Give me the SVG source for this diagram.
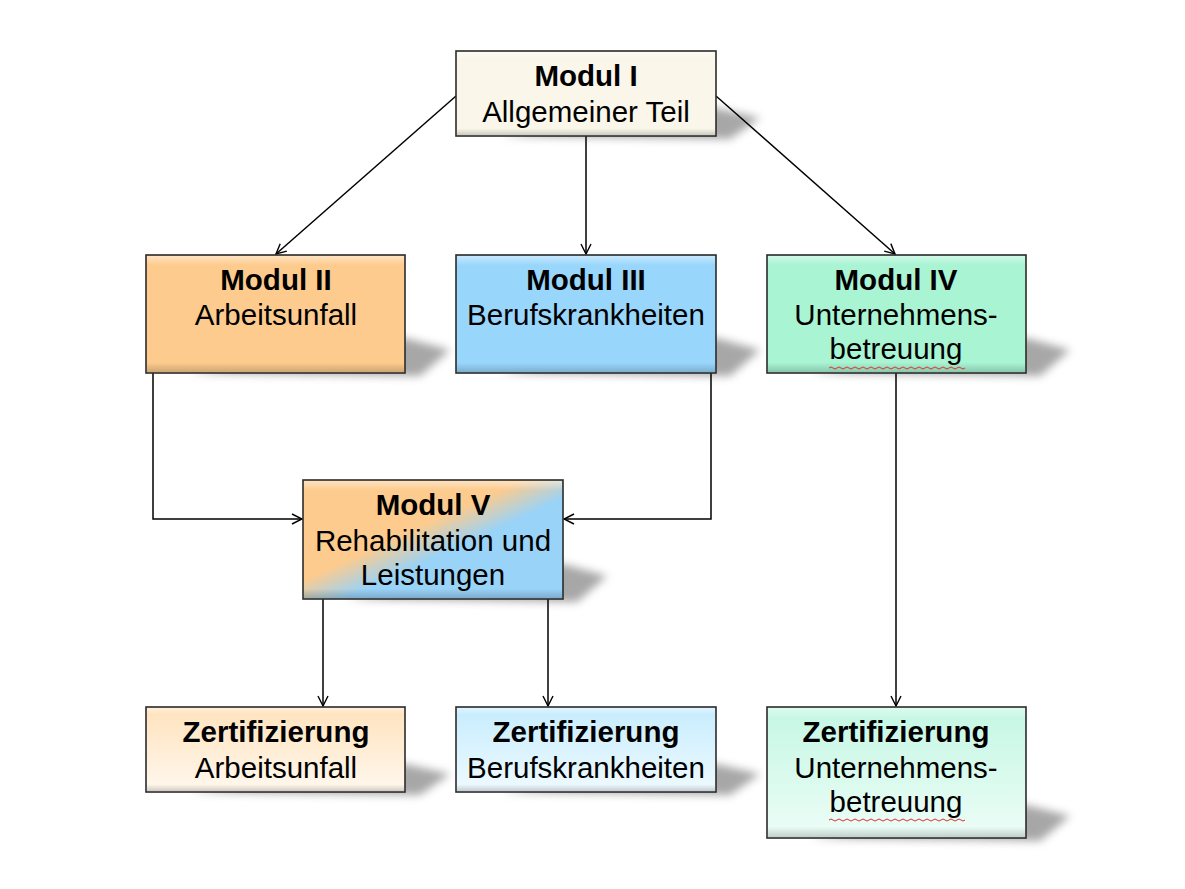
<svg xmlns="http://www.w3.org/2000/svg" width="1185" height="889" viewBox="0 0 1185 889">
<style>
.box{stroke:#2b2b2b;stroke-width:1.6}
.t{font-family:"Liberation Sans",Arial,sans-serif;font-size:29.5px;fill:#000;text-anchor:middle}
.b{font-weight:bold}
.c{stroke:#000;stroke-width:1.5;fill:none;marker-end:url(#ah)}
.sh{fill:#8a8a8a;filter:url(#blur);opacity:0.75}
.bev{fill:url(#bevel);pointer-events:none}
.wav{stroke:#e03030;stroke-width:1;fill:none}
</style>
<defs>
<marker id="ah" viewBox="0 0 12 12" refX="11" refY="6" markerWidth="12" markerHeight="12" markerUnits="userSpaceOnUse" orient="auto">
<path d="M1,1 L11,6 L1,11" fill="none" stroke="#000" stroke-width="1.4"/>
</marker>
<filter id="blur" x="-20%" y="-50%" width="140%" height="200%"><feGaussianBlur stdDeviation="4"/></filter>
<linearGradient id="bevel" x1="0" y1="0" x2="0" y2="1">
<stop offset="0" stop-color="#fff" stop-opacity="0.45"/>
<stop offset="0.08" stop-color="#fff" stop-opacity="0"/>
<stop offset="0.92" stop-color="#000" stop-opacity="0"/>
<stop offset="1" stop-color="#000" stop-opacity="0.18"/>
</linearGradient>
<linearGradient id="g5" x1="0" y1="0" x2="1" y2="1">
<stop offset="0.42" stop-color="#FDCB8D"/>
<stop offset="0.58" stop-color="#99D3F8"/>
</linearGradient>
<linearGradient id="gA" x1="0" y1="0" x2="0" y2="1">
<stop offset="0" stop-color="#FFE2BC"/>
<stop offset="1" stop-color="#FFF8EE"/>
</linearGradient>
<linearGradient id="gB" x1="0" y1="0" x2="0" y2="1">
<stop offset="0" stop-color="#C6ECFD"/>
<stop offset="1" stop-color="#EFFAFF"/>
</linearGradient>
<linearGradient id="gC" x1="0" y1="0" x2="0" y2="1">
<stop offset="0" stop-color="#C4F7E3"/>
<stop offset="1" stop-color="#EDFDF7"/>
</linearGradient>
</defs>

<g id="shadows">
<polygon class="sh" points="500,136 716,108 760,118 730,139"/>
<polygon class="sh" points="190,373 405,338 450,350 420,376"/>
<polygon class="sh" points="500,373 716,338 760,350 730,376"/>
<polygon class="sh" points="811,373 1026,338 1070,350 1040,376"/>
<polygon class="sh" points="347,599 563,564 607,576 577,602"/>
<polygon class="sh" points="190,792 405,764 450,774 420,795"/>
<polygon class="sh" points="500,792 716,764 760,774 730,795"/>
<polygon class="sh" points="811,838 1026,805 1070,816 1040,841"/>
</g>

<g id="connectors">
<line class="c" x1="456" y1="96" x2="276" y2="254"/>
<line class="c" x1="586" y1="136" x2="586" y2="254"/>
<line class="c" x1="716" y1="96" x2="895" y2="254"/>
<polyline class="c" points="153,373 153,519 302,519"/>
<polyline class="c" points="711,373 711,519 564,519"/>
<line class="c" x1="896" y1="373" x2="896" y2="706"/>
<line class="c" x1="323" y1="599" x2="323" y2="706"/>
<line class="c" x1="548" y1="599" x2="548" y2="706"/>
</g>

<g id="modul1">
<rect class="box" x="456" y="51" width="260" height="85" fill="#FAF7EA"/>
<rect class="bev" x="457" y="52" width="258" height="83"/>
<text class="t b" x="586" y="86">Modul I</text>
<text class="t" x="586" y="122">Allgemeiner Teil</text>
</g>

<g id="modul2">
<rect class="box" x="146" y="255" width="259" height="118" fill="#FDCB8D"/>
<rect class="bev" x="147" y="256" width="257" height="116"/>
<text class="t b" x="276" y="290">Modul II</text>
<text class="t" x="276" y="325">Arbeitsunfall</text>
</g>

<g id="modul3">
<rect class="box" x="456" y="255" width="260" height="118" fill="#99D6FC"/>
<rect class="bev" x="457" y="256" width="258" height="116"/>
<text class="t b" x="586" y="290">Modul III</text>
<text class="t" x="586" y="325">Berufskrankheiten</text>
</g>

<g id="modul4">
<rect class="box" x="767" y="255" width="259" height="118" fill="#A8F4D3"/>
<rect class="bev" x="768" y="256" width="257" height="116"/>
<text class="t b" x="896" y="290">Modul IV</text>
<text class="t" x="896" y="325">Unternehmens-</text>
<text class="t" x="896" y="359">betreuung</text>
<path class="wav" d="M829,368 q2,-2 4,0 t4,0 t4,0 t4,0 t4,0 t4,0 t4,0 t4,0 t4,0 t4,0 t4,0 t4,0 t4,0 t4,0 t4,0 t4,0 t4,0 t4,0 t4,0 t4,0 t4,0 t4,0 t4,0 t4,0 t4,0 t4,0 t4,0 t4,0 t4,0 t4,0 t4,0 t4,0 t4,0 t4,0"/>
</g>

<g id="modul5">
<rect class="box" x="303" y="480" width="260" height="119" fill="url(#g5)"/>
<rect class="bev" x="304" y="481" width="258" height="117"/>
<text class="t b" x="433" y="515">Modul V</text>
<text class="t" x="433" y="551">Rehabilitation und</text>
<text class="t" x="433" y="585">Leistungen</text>
</g>

<g id="zertA">
<rect class="box" x="146" y="707" width="259" height="85" fill="url(#gA)"/>
<rect class="bev" x="147" y="708" width="257" height="83"/>
<text class="t b" x="276" y="742">Zertifizierung</text>
<text class="t" x="276" y="778">Arbeitsunfall</text>
</g>

<g id="zertB">
<rect class="box" x="456" y="707" width="260" height="85" fill="url(#gB)"/>
<rect class="bev" x="457" y="708" width="258" height="83"/>
<text class="t b" x="586" y="742">Zertifizierung</text>
<text class="t" x="586" y="778">Berufskrankheiten</text>
</g>

<g id="zertC">
<rect class="box" x="767" y="707" width="259" height="131" fill="url(#gC)"/>
<rect class="bev" x="768" y="708" width="257" height="129"/>
<text class="t b" x="896" y="742">Zertifizierung</text>
<text class="t" x="896" y="778">Unternehmens-</text>
<text class="t" x="896" y="812">betreuung</text>
<path class="wav" d="M829,820 q2,-2 4,0 t4,0 t4,0 t4,0 t4,0 t4,0 t4,0 t4,0 t4,0 t4,0 t4,0 t4,0 t4,0 t4,0 t4,0 t4,0 t4,0 t4,0 t4,0 t4,0 t4,0 t4,0 t4,0 t4,0 t4,0 t4,0 t4,0 t4,0 t4,0 t4,0 t4,0 t4,0 t4,0 t4,0"/>
</g>
</svg>
